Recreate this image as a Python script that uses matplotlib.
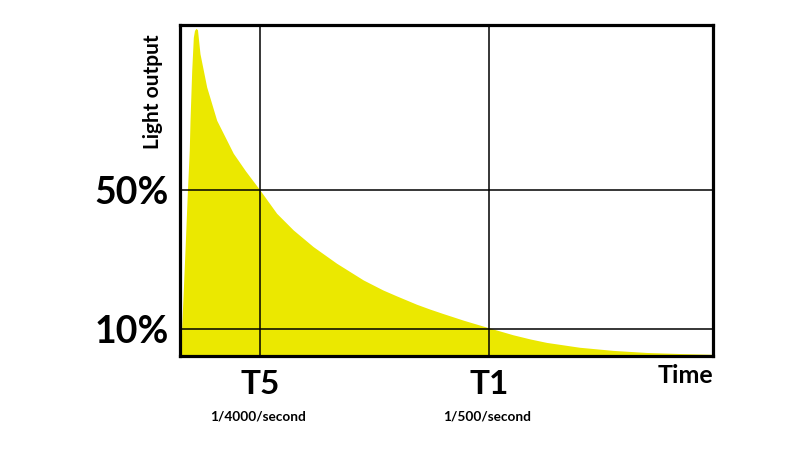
#!/usr/bin/env python3

import matplotlib
matplotlib.use('Agg')
import matplotlib.pyplot as plt

# time in arbitrary units (0..100 across the plot), light output in percent
time = [0.19, 0.32, 0.94, 1.37, 1.74, 1.88, 2.20, 2.50, 2.72, 3.00, 3.28,
        3.75, 5.01, 6.89, 10.0, 12.3, 15.0, 18.14, 21.26, 25.0, 29.4,
        34.4, 38.1, 40.66, 44.4, 46.9, 49.4, 53.2, 58.0, 62.5, 65.7,
        68.8, 75.0, 81.3, 87.6, 93.8, 99.4, 100.0]
light = [2.5, 10.6, 32.7, 49.1, 61.5, 70.1, 84.5, 94.0, 96.0, 96.6, 96.2,
         89.3, 79.7, 70.1, 60.6, 55.5, 50.0, 43.3, 38.5, 33.7, 28.9,
         24.1, 21.2, 19.5, 17.1, 15.7, 14.4, 12.5, 10.3, 8.3, 7.1,
         6.1, 4.7, 3.8, 3.2, 2.9, 2.7, 2.65]

level_ticks = [10, 50]
level_labels = ['10%', '50%']
time_ticks = [15.0, 58.0]
time_labels = ['T5', 'T1']
speed_labels = ['1/4000/second', '1/500/second']

FONT = 'Lato'
YELLOW = '#ebe800'


def plot_flash():
    fig = plt.figure(figsize=(8, 4.5), dpi=100)
    ax = fig.add_axes([0.225, 0.209, 0.666, 0.735])

    ax.fill_between(time, 0, light, color=YELLOW, lw=0, zorder=1)

    ax.set_xlim(0, 100)
    ax.set_ylim(2.2, 97.5)

    ax.set_yticks(level_ticks)
    ax.set_yticklabels(level_labels, fontfamily=FONT, fontweight='bold',
                       fontsize=27)
    ax.set_xticks(time_ticks)
    ax.set_xticklabels(time_labels, fontfamily=FONT, fontweight='bold',
                       fontsize=24)
    ax.tick_params(axis='y', length=0, pad=8)
    ax.tick_params(axis='x', length=0, pad=10)

    ax.grid(True, color='black', lw=1.1, zorder=2)
    ax.set_axisbelow(False)
    for sp in ax.spines.values():
        sp.set_linewidth(2.3)
        sp.set_zorder(3)

    for t, lab in zip(time_ticks, speed_labels):
        ax.text(t - 0.3, -0.182, lab, transform=ax.get_xaxis_transform(),
                ha='center', va='center', fontfamily=FONT,
                fontweight='bold', fontsize=9.8)

    ax.text(1.0, -0.058, 'Time', transform=ax.transAxes, ha='right',
            va='center', fontfamily=FONT, fontweight='bold', fontsize=18)
    ax.text(-0.05, 0.80, 'Light output', transform=ax.transAxes,
            rotation=90, ha='center', va='center', fontfamily=FONT,
            fontweight='bold', fontsize=15)

    fig.savefig('out.png', dpi=100)


if __name__ == '__main__':
    plot_flash()
